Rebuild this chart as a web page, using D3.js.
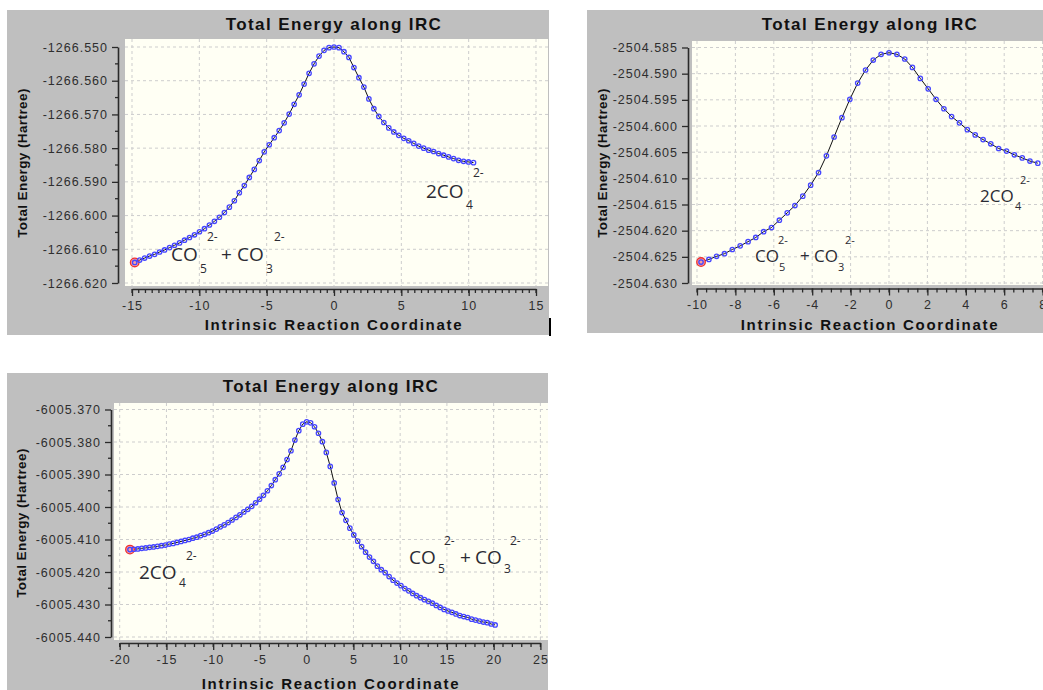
<!DOCTYPE html>
<html lang="en">
<head>
<meta charset="UTF-8">
<title>Total Energy along IRC</title>
<script src="https://d3js.org/d3.v7.min.js"></script>
<style>
  body { margin: 0; background: #fff; overflow: hidden; }
  svg { display: block; }
  .title { font-family: "Liberation Sans", Arial, sans-serif; font-weight: bold; fill: #111; }
  .chem { font-family: "Open Sans", sans-serif; fill: #2b2b33; }
</style>
</head>
<body>
<svg id="chart" width="1043" height="690"></svg>
<script>
// ---- data ----
const irc1X = [-14.80,-14.43,-14.06,-13.69,-13.32,-12.95,-12.58,-12.21,-11.84,-11.47,-11.10,-10.73,-10.36,-9.99,-9.62,-9.25,-8.88,-8.51,-8.14,-7.77,-7.40,-7.03,-6.66,-6.29,-5.92,-5.55,-5.18,-4.81,-4.44,-4.07,-3.70,-3.33,-2.96,-2.59,-2.22,-1.85,-1.48,-1.11,-0.74,-0.37,0,
  0.37,0.74,1.11,1.48,1.85,2.22,2.59,2.96,3.33,3.70,4.07,4.44,4.81,5.18,5.55,5.92,6.29,6.66,7.03,7.40,7.77,8.14,8.51,8.88,9.25,9.62,9.99,10.36];
const irc1E = [-1266.6139,-1266.6132,-1266.6126,-1266.6120,-1266.6115,-1266.6108,-1266.6102,-1266.6095,-1266.6088,-1266.6081,-1266.6073,-1266.6065,-1266.6057,-1266.6048,-1266.6039,-1266.6028,-1266.6017,-1266.6005,-1266.5991,-1266.5975,-1266.5956,-1266.5932,-1266.5911,-1266.5887,-1266.5863,-1266.5837,-1266.5811,-1266.5790,-1266.5769,-1266.5748,-1266.5725,-1266.5699,-1266.5670,-1266.5642,-1266.5610,-1266.5578,-1266.5550,-1266.5527,-1266.5510,-1266.5502,-1266.5500,
  -1266.5502,-1266.5514,-1266.5531,-1266.5561,-1266.5591,-1266.5619,-1266.5654,-1266.5683,-1266.5706,-1266.5724,-1266.5740,-1266.5752,-1266.5762,-1266.5771,-1266.5778,-1266.5786,-1266.5794,-1266.5800,-1266.5806,-1266.5810,-1266.5816,-1266.5821,-1266.5826,-1266.5831,-1266.5836,-1266.5839,-1266.5841,-1266.5843];

const irc2X = [-9.79,-9.38,-8.98,-8.57,-8.16,-7.75,-7.34,-6.94,-6.53,-6.12,-5.71,-5.30,-4.90,-4.49,-4.08,-3.67,-3.26,-2.86,-2.45,-2.04,-1.63,-1.22,-0.82,-0.41,0,
  0.41,0.82,1.22,1.63,2.04,2.45,2.86,3.26,3.67,4.08,4.49,4.90,5.30,5.71,6.12,6.53,6.94,7.34,7.75];
const irc2E = [-2504.6260,-2504.6255,-2504.6249,-2504.6244,-2504.6236,-2504.6229,-2504.6221,-2504.6213,-2504.6202,-2504.6194,-2504.6180,-2504.6166,-2504.6152,-2504.6134,-2504.6113,-2504.6089,-2504.6057,-2504.6021,-2504.5984,-2504.5949,-2504.5918,-2504.5893,-2504.5874,-2504.5863,-2504.5860,
  -2504.5863,-2504.5872,-2504.5888,-2504.5909,-2504.5929,-2504.5949,-2504.5967,-2504.5982,-2504.5994,-2504.6007,-2504.6017,-2504.6026,-2504.6034,-2504.6043,-2504.6048,-2504.6055,-2504.6061,-2504.6067,-2504.6071];

const irc3X = [-18.90,-18.48,-18.06,-17.64,-17.22,-16.80,-16.38,-15.96,-15.54,-15.12,-14.70,-14.28,-13.86,-13.44,-13.02,-12.60,-12.18,-11.76,-11.34,-10.92,-10.50,-10.08,-9.66,-9.24,-8.82,-8.40,-7.98,-7.56,-7.14,-6.72,-6.30,-5.88,-5.46,-5.04,-4.62,-4.20,-3.78,-3.36,-2.94,-2.52,-2.10,-1.68,-1.26,-0.84,-0.42,0,
  0.42,0.84,1.26,1.68,2.10,2.52,2.94,3.36,3.78,4.20,4.62,5.04,5.46,5.88,6.30,6.72,7.14,7.56,7.98,8.40,8.82,9.24,9.66,10.08,10.50,10.92,11.34,11.76,12.18,12.60,13.02,13.44,13.86,14.28,14.70,15.12,15.54,15.96,16.38,16.80,17.22,17.64,18.06,18.48,18.90,19.32,19.74,20.16];
const irc3E = [-6005.4131,-6005.4130,-6005.4129,-6005.4127,-6005.4126,-6005.4124,-6005.4123,-6005.4121,-6005.4119,-6005.4117,-6005.4114,-6005.4112,-6005.4109,-6005.4106,-6005.4103,-6005.4100,-6005.4096,-6005.4093,-6005.4088,-6005.4084,-6005.4079,-6005.4074,-6005.4068,-6005.4061,-6005.4055,-6005.4048,-6005.4040,-6005.4032,-6005.4024,-6005.4015,-6005.4007,-6005.3998,-6005.3987,-6005.3976,-6005.3964,-6005.3950,-6005.3934,-6005.3916,-6005.3898,-6005.3878,-6005.3854,-6005.3827,-6005.3794,-6005.3765,-6005.3745,-6005.3738,
  -6005.3741,-6005.3753,-6005.3773,-6005.3799,-6005.3832,-6005.3875,-6005.3926,-6005.3977,-6005.4017,-6005.4041,-6005.4065,-6005.4086,-6005.4105,-6005.4122,-6005.4139,-6005.4154,-6005.4167,-6005.4182,-6005.4193,-6005.4202,-6005.4214,-6005.4225,-6005.4234,-6005.4242,-6005.4251,-6005.4258,-6005.4266,-6005.4273,-6005.4279,-6005.4285,-6005.4290,-6005.4296,-6005.4303,-6005.4309,-6005.4315,-6005.4320,-6005.4324,-6005.4329,-6005.4334,-6005.4337,-6005.4340,-6005.4345,-6005.4348,-6005.4351,-6005.4354,-6005.4356,-6005.4360,-6005.4363];

const yTicks1 = [-1266.620,-1266.610,-1266.600,-1266.590,-1266.580,-1266.570,-1266.560,-1266.550];
const yTicks2 = [-2504.630,-2504.625,-2504.620,-2504.615,-2504.610,-2504.605,-2504.600,-2504.595,-2504.590,-2504.585];
const yTicks3 = [-6005.440,-6005.430,-6005.420,-6005.410,-6005.400,-6005.390,-6005.380,-6005.370];
const xTicks1 = [-15,-10,-5,0,5,10,15];
const xTicks2 = [-10,-8,-6,-4,-2,0,2,4,6,8,10];
const xTicks3 = [-20,-15,-10,-5,0,5,10,15,20,25];

const titleText = "Total Energy along IRC";
const xTitleText = "Intrinsic Reaction Coordinate";
const yTitleText = "Total Energy (Hartree)";

const svg = d3.select("#chart");

const panels = [
  { xs: irc1X, es: irc1E, xTicks: xTicks1, yTicks: yTicks1, xMinorStep: 0.5, yMinor: true,
    frame: [7, 10, 542, 325], plot: [125, 39, 423, 247],
    xDomain: [-15, 15], xRange: [132, 536], yDomain: [-1266.620, -1266.550], yRange: [283, 47],
    yAxisX: 118, xAxisY: 289, titleX: 334, titleY: 30, xTitleY: 330, yTitleX: 27, yTitleY: 163,
    chem: 19,
    labels: [
      { t: "CO", x: 171, y: 261 }, { t: "5", x: 200, y: 273, s: 1 }, { t: "2-", x: 207, y: 241, s: 1 },
      { t: "+", x: 221, y: 261 }, { t: "CO", x: 237, y: 261 }, { t: "3", x: 266, y: 273, s: 1 }, { t: "2-", x: 274, y: 241, s: 1 },
      { t: "2CO", x: 426, y: 198 }, { t: "4", x: 466, y: 209, s: 1 }, { t: "2-", x: 473, y: 177, s: 1 }
    ] },
  { xs: irc2X, es: irc2E, xTicks: xTicks2, yTicks: yTicks2, xMinorStep: 0.5, yMinor: false,
    frame: [587, 10, 480, 323], plot: [692, 41, 370, 244],
    xDomain: [-10, 10], xRange: [697, 1081], yDomain: [-2504.630, -2504.585], yRange: [283, 47.5],
    yAxisX: 688, xAxisY: 288.5, titleX: 870, titleY: 30, xTitleY: 330, yTitleX: 607, yTitleY: 163,
    chem: 17,
    labels: [
      { t: "CO", x: 755, y: 262 }, { t: "5", x: 779, y: 271, s: 1 }, { t: "2-", x: 778, y: 244, s: 1 },
      { t: "+", x: 800, y: 262 }, { t: "CO", x: 814, y: 262 }, { t: "3", x: 838, y: 271, s: 1 }, { t: "2-", x: 845, y: 244, s: 1 },
      { t: "2CO", x: 980, y: 202 }, { t: "4", x: 1015, y: 210, s: 1 }, { t: "2-", x: 1020, y: 184, s: 1 }
    ] },
  { xs: irc3X, es: irc3E, xTicks: xTicks3, yTicks: yTicks3, xMinorStep: 1, yMinor: true,
    frame: [7, 373, 541, 320], plot: [114, 403, 434, 237],
    xDomain: [-20, 25], xRange: [119.7, 540.4], yDomain: [-6005.440, -6005.370], yRange: [637, 409.5],
    yAxisX: 111, xAxisY: 643, titleX: 331, titleY: 392, xTitleY: 689, yTitleX: 26, yTitleY: 523,
    chem: 19,
    labels: [
      { t: "2CO", x: 139, y: 579 }, { t: "4", x: 179, y: 587, s: 1 }, { t: "2-", x: 186, y: 560, s: 1 },
      { t: "CO", x: 409, y: 564 }, { t: "5", x: 438, y: 573, s: 1 }, { t: "2-", x: 444, y: 545, s: 1 },
      { t: "+", x: 460, y: 564 }, { t: "CO", x: 475, y: 564 }, { t: "3", x: 504, y: 573, s: 1 }, { t: "2-", x: 510, y: 545, s: 1 }
    ] }
];

function drawPanel(p) {
  const g = svg.append("g");
  const [fx, fy, fw, fh] = p.frame;
  const [px, py, pw, ph] = p.plot;

  g.append("rect").attr("x", fx).attr("y", fy).attr("width", fw).attr("height", fh).attr("fill", "#bfbfbf");
  g.append("rect").attr("x", px).attr("y", py).attr("width", pw).attr("height", ph).attr("fill", "#fffff4");

  const x = d3.scaleLinear().domain(p.xDomain).range(p.xRange);
  const y = d3.scaleLinear().domain(p.yDomain).range(p.yRange);

  // dashed grid
  g.append("g").selectAll("line").data(p.xTicks.filter(d => x(d) > px && x(d) < px + pw)).join("line")
    .attr("x1", d => x(d)).attr("x2", d => x(d)).attr("y1", py).attr("y2", py + ph)
    .attr("stroke", "#cdcdcd").attr("stroke-dasharray", "3,3");
  g.append("g").selectAll("line").data(p.yTicks).join("line")
    .attr("x1", px).attr("x2", px + pw).attr("y1", d => y(d)).attr("y2", d => y(d))
    .attr("stroke", "#cdcdcd").attr("stroke-dasharray", "3,3");

  // y axis
  const ya = g.append("g").attr("transform", `translate(${p.yAxisX},0)`)
    .call(d3.axisLeft(y).tickValues(p.yTicks).tickFormat(d => d.toFixed(3)).tickSize(6).tickSizeOuter(0).tickPadding(4));
  if (p.yMinor) {
    const mids = p.yTicks.slice(1).map((t, i) => (t + p.yTicks[i]) / 2);
    ya.selectAll(".minor").data(mids).join("line").attr("class", "minor")
      .attr("x1", -3).attr("x2", 0).attr("y1", d => y(d)).attr("y2", d => y(d));
  }

  // x axis
  const xa = g.append("g").attr("transform", `translate(0,${p.xAxisY})`)
    .call(d3.axisBottom(x).tickValues(p.xTicks).tickFormat(d => String(d)).tickSize(7).tickSizeOuter(0).tickPadding(5));
  const xMinor = d3.range(p.xDomain[0], p.xDomain[1] + 1e-9, p.xMinorStep);
  xa.selectAll(".minor").data(xMinor).join("line").attr("class", "minor")
    .attr("x1", d => x(d)).attr("x2", d => x(d)).attr("y1", 0).attr("y2", 4);

  [ya, xa].forEach(a => {
    a.attr("font-family", "'Liberation Sans', Arial, sans-serif").attr("font-size", 12.5);
    a.select(".domain").attr("stroke", "#2a2a2a").attr("stroke-width", 1.6);
    a.selectAll("line").attr("stroke", "#2a2a2a").attr("stroke-width", 1.3);
    a.selectAll("text").attr("fill", "#2e2e2e").style("letter-spacing", "1px");
  });

  // titles
  g.append("text").attr("class", "title").attr("x", p.titleX).attr("y", p.titleY)
    .attr("text-anchor", "middle").attr("font-size", 17).style("letter-spacing", "1.4px").text(titleText);
  g.append("text").attr("class", "title").attr("x", p.titleX).attr("y", p.xTitleY)
    .attr("text-anchor", "middle").attr("font-size", 15).style("letter-spacing", "1.7px").text(xTitleText);
  g.append("text").attr("class", "title")
    .attr("transform", `translate(${p.yTitleX},${p.yTitleY}) rotate(-90)`)
    .attr("text-anchor", "middle").attr("font-size", 13.5).style("letter-spacing", "0.4px").text(yTitleText);

  // curve
  const pts = p.xs.map((v, i) => [v, p.es[i]]);
  g.append("path").datum(pts)
    .attr("d", d3.line().x(d => x(d[0])).y(d => y(d[1])))
    .attr("fill", "none").attr("stroke", "#111").attr("stroke-width", 1);
  g.append("circle").attr("cx", x(pts[0][0])).attr("cy", y(pts[0][1])).attr("r", 4.3)
    .attr("fill", "#f7a0a0").attr("stroke", "#ee3030").attr("stroke-width", 1.3);
  g.append("g").selectAll("circle").data(pts).join("circle")
    .attr("cx", d => x(d[0])).attr("cy", d => y(d[1])).attr("r", 2.2)
    .attr("fill", "none").attr("stroke", "#4646ff").attr("stroke-width", 1.3);

  // species labels
  g.append("g").selectAll("text").data(p.labels).join("text").attr("class", "chem")
    .attr("x", d => d.x).attr("y", d => d.y)
    .attr("font-size", d => d.s ? Math.round(p.chem * 0.62) : p.chem)
    .text(d => d.t);
}

panels.forEach(drawPanel);

// stray cursor mark at the right of the first panel
svg.append("line").attr("x1", 550).attr("x2", 550).attr("y1", 318).attr("y2", 336)
  .attr("stroke", "#000").attr("stroke-width", 2);
</script>
</body>
</html>
